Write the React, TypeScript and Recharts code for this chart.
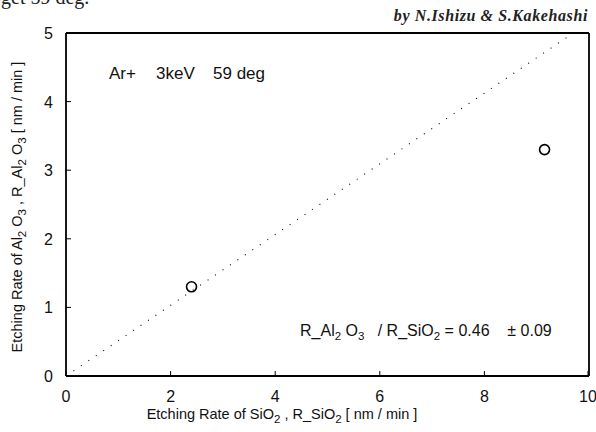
import React from "react";
import { ScatterChart, Scatter, XAxis, YAxis, ReferenceLine } from "recharts";

const xTicks = [0, 2, 4, 6, 8, 10];
const yTicks = [0, 1, 2, 3, 4, 5];
const rSiO2 = [2.4, 9.15];
const rAl2O3 = [1.3, 3.3];
const guideLine = [
  { x: 0, y: 0 },
  { x: 9.7, y: 5 },
];
const points = rSiO2.map((x, i) => ({ x, y: rAl2O3[i] }));

const FONT = "'Liberation Sans', Arial, sans-serif";

const BottomTick = (props: any) => {
  const { x, y, payload } = props;
  return (
    <g>
      <line x1={x} x2={x} y1={y} y2={y - 5} stroke="#000" strokeWidth={1} />
      <text x={x} y={y + 26} textAnchor="middle" fontSize={16} fontFamily={FONT} fill="#111">
        {payload.value}
      </text>
    </g>
  );
};
const TopTick = (props: any) => {
  const { x, y } = props;
  return <line x1={x} x2={x} y1={y} y2={y + 5} stroke="#000" strokeWidth={1} />;
};
const LeftTick = (props: any) => {
  const { x, y, payload } = props;
  return (
    <g>
      <line x1={x} x2={x + 5} y1={y} y2={y} stroke="#000" strokeWidth={1} />
      <text x={x - 13} y={y + 6} textAnchor="end" fontSize={16} fontFamily={FONT} fill="#111">
        {payload.value}
      </text>
    </g>
  );
};
const RightTick = (props: any) => {
  const { x, y } = props;
  return <line x1={x} x2={x - 5} y1={y} y2={y} stroke="#000" strokeWidth={1} />;
};

const Ring = (props: any) => {
  const { cx, cy } = props;
  return <circle cx={cx} cy={cy} r={5} fill="none" stroke="#000" strokeWidth={1.6} />;
};

const sub = { fontSize: 11.5, baselineShift: "-30%" } as any;

export default function App() {
  return (
    <div style={{ position: "absolute", left: 0, top: 0, width: 596, height: 432, background: "#fff", overflow: "hidden" }}>
      <ScatterChart width={596} height={432} margin={{ top: 32, right: 6, bottom: 36, left: 46 }}>
        <XAxis
          xAxisId="b"
          type="number"
          dataKey="x"
          domain={[0, 10]}
          ticks={xTicks}
          orientation="bottom"
          height={20}
          tickSize={0}
          tickMargin={0}
          tickLine={false}
          tick={<BottomTick />}
          axisLine={{ stroke: "#000", strokeWidth: 1.8 }}
          allowDataOverflow
        />
        <XAxis
          xAxisId="t"
          type="number"
          dataKey="x"
          domain={[0, 10]}
          ticks={xTicks}
          orientation="top"
          height={1}
          tickSize={0}
          tickMargin={0}
          tickLine={false}
          tick={<TopTick />}
          axisLine={{ stroke: "#000", strokeWidth: 1.8 }}
        />
        <YAxis
          yAxisId="l"
          type="number"
          dataKey="y"
          domain={[0, 5]}
          ticks={yTicks}
          orientation="left"
          width={20}
          tickSize={0}
          tickMargin={0}
          tickLine={false}
          tick={<LeftTick />}
          axisLine={{ stroke: "#000", strokeWidth: 1.8 }}
          allowDataOverflow
        />
        <YAxis
          yAxisId="r"
          type="number"
          dataKey="y"
          domain={[0, 5]}
          ticks={yTicks}
          orientation="right"
          width={1}
          tickSize={0}
          tickMargin={0}
          tickLine={false}
          tick={<RightTick />}
          axisLine={{ stroke: "#000", strokeWidth: 1.8 }}
        />
        <ReferenceLine
          xAxisId="b"
          yAxisId="l"
          segment={guideLine}
          stroke="#000"
          strokeWidth={1.1}
          strokeDasharray="1 8"
          ifOverflow="visible"
        />
        <Scatter
          xAxisId="b"
          yAxisId="l"
          data={points}
          shape={<Ring />}
          isAnimationActive={false}
        />
      </ScatterChart>
      <svg width={596} height={432} style={{ position: "absolute", left: 0, top: 0, pointerEvents: "none" }}>
        <text x={1} y={4} fontSize={20} fontFamily="'Liberation Serif', serif" fill="#222">get 59 deg.</text>
        <text x={588} y={21} textAnchor="end" fontSize={16} letterSpacing={0.6} fontStyle="italic" fontWeight="bold" fontFamily="'Liberation Serif', serif" fill="#222">
          by N.Ishizu &amp; S.Kakehashi
        </text>
        <text x={109} y={79} fontSize={17} fontFamily={FONT} fill="#111">Ar+</text>
        <text x={156} y={79} fontSize={17} fontFamily={FONT} fill="#111">3keV</text>
        <text x={213} y={79} fontSize={17} fontFamily={FONT} fill="#111">59 deg</text>
        <text x={300} y={336} fontSize={16} fontFamily={FONT} fill="#111" xmlSpace="preserve">
          R_Al<tspan style={sub}>2</tspan> O<tspan style={sub}>3</tspan>   / R_SiO<tspan style={sub}>2</tspan> = 0.46    ± 0.09
        </text>
        <text x={282} y={419} textAnchor="middle" fontSize={14.5} fontFamily={FONT} fill="#111">
          Etching Rate of SiO<tspan style={sub}>2</tspan> ,  R_SiO<tspan style={sub}>2</tspan> [ nm / min ]
        </text>
        <text x={0} y={0} transform="translate(22,207) rotate(-90)" textAnchor="middle" fontSize={14.5} fontFamily={FONT} fill="#111">
          Etching Rate of Al<tspan style={sub}>2</tspan> O<tspan style={sub}>3</tspan> , R_Al<tspan style={sub}>2</tspan> O<tspan style={sub}>3</tspan>  [ nm / min ]
        </text>
      </svg>
    </div>
  );
}
